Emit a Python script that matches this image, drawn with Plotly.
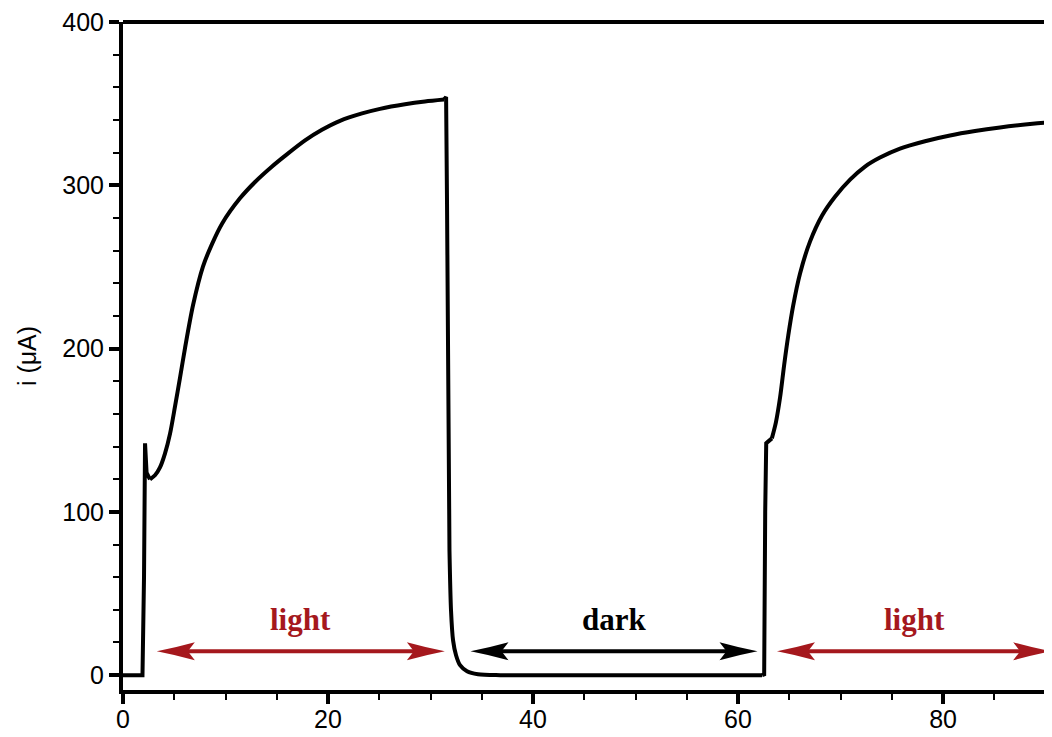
import plotly.graph_objects as go

# Photocurrent transient, split into smooth / sharp pieces
seg_t = [
    [0.0, 1.9, 2.05, 2.15, 2.3, 2.63],                                   # dark -> spike
    [2.63, 3.12, 3.61, 4.10, 4.59, 5.07, 5.56, 6.05, 6.83, 7.80, 8.68, 9.66, 11.41,
     12.88, 14.54, 15.80, 17.76, 19.41, 21.17, 23.32, 25.07, 27.51, 29.46, 31.32],  # rise 1
    [31.32, 31.52, 31.61, 31.71, 31.85],                                   # switch-off
    [31.85, 32.0, 32.2, 32.49, 32.88, 33.56, 34.63, 36.8, 50.0, 62.35],    # decay, dark
    [62.35, 62.55, 62.65, 62.75, 63.3],                                    # switch-on
    [63.3, 63.7, 64.1, 64.5, 64.9, 65.37, 66.05, 67.02, 68.20, 69.46, 70.93, 72.39,
     73.85, 75.80, 78.24, 80.68, 83.12, 85.56, 88.0, 90.63, 91.4],         # rise 2
]
seg_i = [
    [0.0, 0.0, 60.0, 142.0, 124.0, 119.9],
    [119.9, 122.4, 127.2, 135.8, 147.9, 164.4, 182.0, 200.3, 226.5, 250.2, 264.0,
     276.5, 292.0, 302.0, 311.5, 318.0, 327.5, 334.0, 339.5, 344.0, 346.8, 349.6,
     351.3, 352.5],
    [352.5, 354.0, 289.0, 167.0, 76.0],
    [76.0, 39.6, 21.3, 12.2, 6.1, 2.4, 0.6, 0.0, 0.0, 0.0],
    [0.0, 0.5, 100.0, 142.0, 145.0],
    [145.0, 155.0, 170.0, 190.0, 208.0, 226.0, 246.0, 265.5, 281.5, 293.0, 303.5,
     311.5, 317.0, 322.5, 327.0, 330.5, 333.2, 335.4, 337.2, 338.8, 339.2],
]
seg_smooth = [False, True, False, True, False, True]

# Illumination periods (arrow start, arrow end, label)
period_start = [3.3, 33.9, 63.8]
period_end = [31.4, 61.9, 90.55]
period_label = ["light", "dark", "light"]
period_color = ["#A5181D", "#000000", "#A5181D"]
arrow_level = 14.6
label_level = 34.0

x_range = [0, 91.41]
y_range = [-9.1, 400]

fig = go.Figure()
for xs, ys, sm in zip(seg_t, seg_i, seg_smooth):
    fig.add_trace(go.Scatter(
        x=xs, y=ys, mode="lines", hoverinfo="skip",
        line=dict(color="black", width=4, shape="spline" if sm else "linear",
                  smoothing=0.8 if sm else None)))

head_left = "M0,0 Q18,3.5 38,9 L31,0 L38,-9 Q18,-3.5 0,0 Z"
head_right = "M0,0 Q-18,3.5 -38,9 L-31,0 L-38,-9 Q-18,-3.5 0,0 Z"
shapes = []
annotations = []
for a, b, lab, col in zip(period_start, period_end, period_label, period_color):
    shapes.append(dict(type="line", xref="x", yref="y", x0=a + 2.5, x1=b - 2.5,
                       y0=arrow_level, y1=arrow_level, line=dict(color=col, width=4)))
    for xa, p in ((a, head_left), (b, head_right)):
        shapes.append(dict(type="path", xref="x", yref="y", xsizemode="pixel",
                           ysizemode="pixel", xanchor=xa, yanchor=arrow_level, path=p,
                           fillcolor=col, line=dict(color=col, width=0)))
    annotations.append(dict(x=(a + b) / 2, y=label_level, xref="x", yref="y", text=lab,
                            showarrow=False, xanchor="center", yanchor="middle",
                            font=dict(family="Liberation Serif", size=31, color=col,
                                      weight="bold")))

# top frame line
shapes.append(dict(type="line", xref="paper", yref="paper", x0=0, x1=1, y0=1, y1=1,
                   line=dict(color="black", width=4)))

# x-axis title (partly cut by the bottom edge as in the reference)
annotations.append(dict(x=0.506, y=-0.064, xref="paper", yref="paper", text="t (s)",
                        showarrow=False, xanchor="center", yanchor="top",
                        font=dict(family="Liberation Sans", size=25, color="black")))

axis_common = dict(showline=True, linecolor="black", linewidth=4, ticks="outside",
                   ticklen=10, tickwidth=4, tickcolor="black", showgrid=False,
                   zeroline=False, ticklabeloverflow="allow",
                   tickfont=dict(family="Liberation Sans", size=25, color="black"))

fig.update_layout(
    width=1052, height=737,
    margin=dict(l=115, r=0, t=7, b=55, pad=0),
    plot_bgcolor="white", paper_bgcolor="white",
    showlegend=False,
    shapes=shapes, annotations=annotations,
    xaxis=dict(range=x_range, tick0=0, dtick=20, ticklabelstandoff=-6,
               minor=dict(dtick=5, ticklen=6, tickwidth=2, ticks="outside",
                          tickcolor="black"),
               **axis_common),
    yaxis=dict(range=y_range, tick0=0, dtick=100,
               minor=dict(dtick=20, ticklen=6, tickwidth=2, ticks="outside",
                          tickcolor="black"),
               title=dict(text="i (μA)", standoff=20,
                          font=dict(family="Liberation Sans", size=25, color="black")),
               **axis_common),
)

fig.write_html("out.html")
